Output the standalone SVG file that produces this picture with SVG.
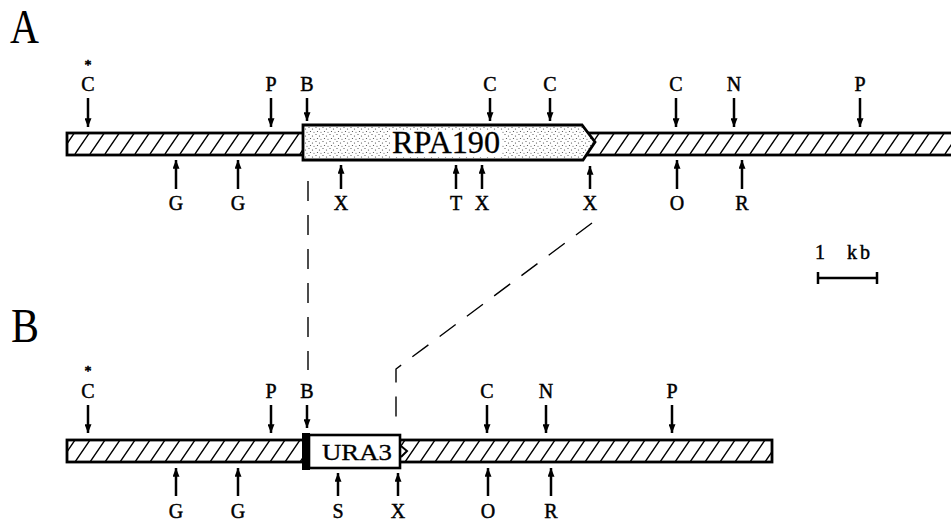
<svg xmlns="http://www.w3.org/2000/svg" width="951" height="521" viewBox="0 0 951 521">
<style>
.lbl{font-family:"Liberation Serif","DejaVu Serif",serif;font-size:20px;fill:#000;text-anchor:middle;stroke:#000;stroke-width:0.45}
.ast{font-family:"Liberation Serif","DejaVu Serif",serif;font-size:14px;fill:#000;text-anchor:middle;stroke:#000;stroke-width:0.6}
.big{font-family:"Liberation Serif","DejaVu Serif",serif;font-size:48px;fill:#000}
.ar{stroke:#000;stroke-width:2.5;fill:none;marker-end:url(#head)}
.bar{stroke:#000;stroke-width:2.8;fill:url(#hatch)}
.dash{stroke:#000;stroke-width:1.4;fill:none;stroke-dasharray:20 14}
</style>
<defs>
<marker id="head" viewBox="0 0 10 8" refX="10" refY="4" markerWidth="9" markerHeight="7" markerUnits="userSpaceOnUse" orient="auto">
<path d="M0,0 L10,4 L0,8 z" fill="#000"/>
</marker>
<pattern id="hatch" patternUnits="userSpaceOnUse" x="0" y="0" width="15" height="22">
<rect width="15" height="22" fill="#fff"/>
<path d="M-15,22 L0,0 M0,22 L15,0 M15,22 L30,0" stroke="#000" stroke-width="1.4"/>
</pattern>
<pattern id="dots" patternUnits="userSpaceOnUse" width="7" height="7">
<rect width="7" height="7" fill="#fff"/>
<circle cx="1" cy="1.5" r="0.6" fill="#444"/>
<circle cx="4.5" cy="3" r="0.6" fill="#444"/>
<circle cx="2.5" cy="5.5" r="0.6" fill="#444"/>
<circle cx="6" cy="6.3" r="0.5" fill="#444"/>
</pattern>
</defs>
<rect width="951" height="521" fill="#fff"/>

<g id="panelA-label"><text class="big" x="10" y="43" textLength="29" lengthAdjust="spacingAndGlyphs">A</text></g>
<g id="panelB-label"><text class="big" x="11" y="342" textLength="28" lengthAdjust="spacingAndGlyphs">B</text></g>

<g id="barA"><rect class="bar" x="67" y="133" width="892" height="22"/></g>
<g id="geneRPA190">
<polygon points="303,125 582,125 595,142 583,160 303,160" fill="url(#dots)" stroke="#000" stroke-width="2.8" stroke-linejoin="miter"/>
<rect x="390" y="130" width="112" height="27" fill="#fff"/>
<text x="446" y="153" font-family="Liberation Serif, DejaVu Serif, serif" font-size="31" text-anchor="middle" stroke="#000" stroke-width="0.3" textLength="108" lengthAdjust="spacingAndGlyphs">RPA190</text>
</g>

<g id="barB"><rect class="bar" x="67" y="440" width="705" height="22"/></g>
<g id="geneURA3">
<rect x="302" y="433" width="8" height="37" fill="#000"/>
<rect x="309" y="435" width="91" height="33" fill="#fff" stroke="#000" stroke-width="2.6"/>
<polyline points="401,446 407,451 401,457" fill="none" stroke="#000" stroke-width="2"/>
<text x="357" y="460" font-family="Liberation Serif, DejaVu Serif, serif" font-size="23" text-anchor="middle" stroke="#000" stroke-width="0.3" textLength="70" lengthAdjust="spacingAndGlyphs">URA3</text>
</g>

<g id="sitesA-top">
<g id="A-C1"><text class="ast" x="88" y="70">*</text><text class="lbl" x="88" y="91">C</text><path class="ar" d="M88,98 V127"/></g>
<g id="A-P1"><text class="lbl" x="271" y="91">P</text><path class="ar" d="M271,98 V127"/></g>
<g id="A-B"><text class="lbl" x="307" y="91">B</text><path class="ar" d="M307,98 V121"/></g>
<g id="A-C2"><text class="lbl" x="490" y="91">C</text><path class="ar" d="M490,98 V121"/></g>
<g id="A-C3"><text class="lbl" x="550" y="91">C</text><path class="ar" d="M550,98 V121"/></g>
<g id="A-C4"><text class="lbl" x="676" y="91">C</text><path class="ar" d="M676,98 V127"/></g>
<g id="A-N"><text class="lbl" x="734" y="91">N</text><path class="ar" d="M734,98 V127"/></g>
<g id="A-P2"><text class="lbl" x="860" y="91">P</text><path class="ar" d="M860,98 V127"/></g>
</g>
<g id="sitesA-bottom">
<g id="A-G1"><path class="ar" d="M176,189 V160"/><text class="lbl" x="176" y="210">G</text></g>
<g id="A-G2"><path class="ar" d="M238,189 V160"/><text class="lbl" x="238" y="210">G</text></g>
<g id="A-X1"><path class="ar" d="M341,189 V165"/><text class="lbl" x="341" y="210">X</text></g>
<g id="A-T"><path class="ar" d="M456,189 V165"/><text class="lbl" x="456" y="210">T</text></g>
<g id="A-X2"><path class="ar" d="M482,189 V165"/><text class="lbl" x="482" y="210">X</text></g>
<g id="A-X3"><path class="ar" d="M590,189 V166"/><text class="lbl" x="590" y="210">X</text></g>
<g id="A-O"><path class="ar" d="M677,189 V160"/><text class="lbl" x="677" y="210">O</text></g>
<g id="A-R"><path class="ar" d="M742,189 V160"/><text class="lbl" x="742" y="210">R</text></g>
</g>

<g id="sitesB-top">
<g id="B-C1"><text class="ast" x="88" y="376">*</text><text class="lbl" x="88" y="398">C</text><path class="ar" d="M88,405 V433"/></g>
<g id="B-P1"><text class="lbl" x="271" y="398">P</text><path class="ar" d="M271,405 V433"/></g>
<g id="B-B"><text class="lbl" x="307" y="398">B</text><path class="ar" d="M307,405 V428"/></g>
<g id="B-C2"><text class="lbl" x="487" y="398">C</text><path class="ar" d="M487,405 V433"/></g>
<g id="B-N"><text class="lbl" x="546" y="398">N</text><path class="ar" d="M546,405 V433"/></g>
<g id="B-P2"><text class="lbl" x="672" y="398">P</text><path class="ar" d="M672,405 V433"/></g>
</g>
<g id="sitesB-bottom">
<g id="B-G1"><path class="ar" d="M176,496 V468"/><text class="lbl" x="176" y="518">G</text></g>
<g id="B-G2"><path class="ar" d="M238,496 V468"/><text class="lbl" x="238" y="518">G</text></g>
<g id="B-S"><path class="ar" d="M338,496 V473"/><text class="lbl" x="338" y="518">S</text></g>
<g id="B-X"><path class="ar" d="M398,496 V473"/><text class="lbl" x="398" y="518">X</text></g>
<g id="B-O"><path class="ar" d="M488,496 V468"/><text class="lbl" x="488" y="518">O</text></g>
<g id="B-R"><path class="ar" d="M551,496 V468"/><text class="lbl" x="551" y="518">R</text></g>
</g>

<g id="scale">
<text class="lbl" x="815" y="259" style="text-anchor:start">1<tspan dx="14" letter-spacing="3"> kb</tspan></text>
<path d="M818,278 H877 M818,272 V284 M877,272 V284" stroke="#000" stroke-width="2.5" fill="none"/>
</g>

<g id="connectors">
<path class="dash" d="M308,181 V370"/>
<path class="dash" d="M592,223 L396,369 V418"/>
</g>
</svg>
